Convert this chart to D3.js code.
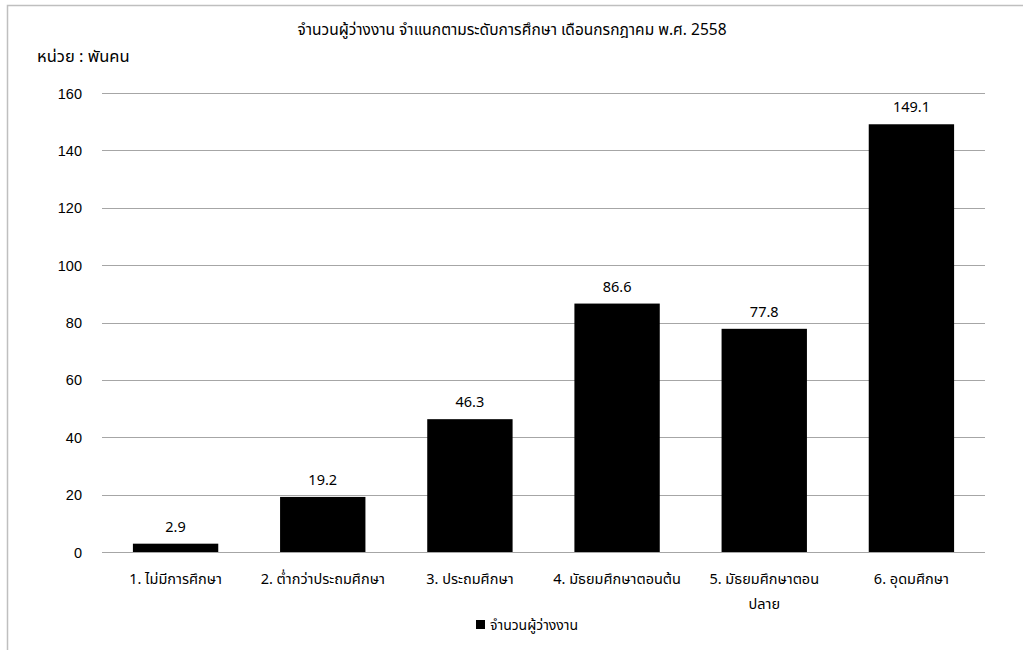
<!DOCTYPE html>
<html>
<head>
<meta charset="utf-8">
<script src="https://cdn.jsdelivr.net/npm/d3@7"></script>
<style>
  html, body { margin: 0; padding: 0; background: #fff; }
  svg { display: block; font-family: Tahoma, "Noto Sans Thai", "Noto Sans", "DejaVu Sans", sans-serif; }
</style>
</head>
<body>
<svg id="chart" width="1023" height="650"></svg>
<script>
// Unemployed persons by education level, July 2015 (B.E. 2558), thousands
const categories = [
  "1. ไม่มีการศึกษา",
  "2. ต่ำกว่าประถมศึกษา",
  "3. ประถมศึกษา",
  "4. มัธยมศึกษาตอนต้น",
  "5. มัธยมศึกษาตอนปลาย",
  "6. อุดมศึกษา"
];
const categoryLines = [
  ["1. ไม่มีการศึกษา"],
  ["2. ต่ำกว่าประถมศึกษา"],
  ["3. ประถมศึกษา"],
  ["4. มัธยมศึกษาตอนต้น"],
  ["5. มัธยมศึกษาตอน", "ปลาย"],
  ["6. อุดมศึกษา"]
];
const unemployed = [2.9, 19.2, 46.3, 86.6, 77.8, 149.1];
const yTicks = [0, 20, 40, 60, 80, 100, 120, 140, 160];
const titleText = "จำนวนผู้ว่างงาน จำแนกตามระดับการศึกษา เดือนกรกฎาคม พ.ศ. 2558";
const unitText = "หน่วย : พันคน";
const seriesName = "จำนวนผู้ว่างงาน";

const svg = d3.select("#chart");
const FS = 14.5;

// outer chart frame
svg.append("path")
  .attr("d", "M7.5,660 V5.5 H1030")
  .attr("fill", "none")
  .attr("stroke", "#bfbfbf")
  .attr("stroke-width", 1.5);

const plot = { left: 102, right: 985, top: 93, bottom: 552 };

const x = d3.scaleBand()
  .domain(categories)
  .range([plot.left, plot.right])
  .paddingInner(0.42)
  .paddingOuter(0.21);

const y = d3.scaleLinear()
  .domain([0, 160])
  .range([plot.bottom, plot.top]);

// horizontal gridlines
svg.append("g")
  .selectAll("line")
  .data(yTicks)
  .join("line")
  .attr("x1", plot.left)
  .attr("x2", plot.right)
  .attr("y1", d => Math.round(y(d)) + 0.5)
  .attr("y2", d => Math.round(y(d)) + 0.5)
  .attr("stroke", "#a6a6a6")
  .attr("stroke-width", 1);

// y axis labels
const yAxis = d3.axisLeft(y).tickValues(yTicks).tickSize(0).tickPadding(0);
const yg = svg.append("g")
  .attr("transform", `translate(${plot.left - 20},0)`)
  .call(yAxis);
yg.select(".domain").remove();
yg.selectAll("text")
  .attr("font-size", FS)
  .attr("font-family", null)
  .attr("fill", "#000")
  .attr("dy", "0.35em");

// bars
svg.append("g")
  .selectAll("rect")
  .data(unemployed)
  .join("rect")
  .attr("x", (d, i) => x(categories[i]))
  .attr("width", x.bandwidth())
  .attr("y", d => y(d))
  .attr("height", d => y(0) - y(d))
  .attr("fill", "#000");

// value labels
svg.append("g")
  .selectAll("text")
  .data(unemployed)
  .join("text")
  .attr("x", (d, i) => x(categories[i]) + x.bandwidth() / 2)
  .attr("y", d => y(d) - 12)
  .attr("text-anchor", "middle")
  .attr("font-size", FS)
  .attr("fill", "#000")
  .text(d => d.toFixed(1));

// category labels
const catG = svg.append("g");
categoryLines.forEach((lines, i) => {
  const cx = x(categories[i]) + x.bandwidth() / 2;
  const t = catG.append("text")
    .attr("x", cx)
    .attr("y", 584)
    .attr("text-anchor", "middle")
    .attr("font-size", FS)
    .attr("fill", "#000");
  lines.forEach((ln, j) => {
    t.append("tspan")
      .attr("x", cx)
      .attr("dy", j === 0 ? 0 : 25)
      .text(ln);
  });
});

// title
svg.append("text")
  .attr("x", 512)
  .attr("y", 35)
  .attr("text-anchor", "middle")
  .attr("font-size", 15.5)
  .attr("fill", "#000")
  .text(titleText);

// unit label
svg.append("text")
  .attr("x", 37)
  .attr("y", 62)
  .attr("font-size", 16.5)
  .attr("fill", "#000")
  .text(unitText);

// legend
const legend = svg.append("g").attr("transform", "translate(476,620)");
legend.append("rect")
  .attr("width", 9).attr("height", 9)
  .attr("fill", "#000");
legend.append("text")
  .attr("x", 14).attr("y", 10)
  .attr("font-size", 14)
  .attr("fill", "#000")
  .text(seriesName);
</script>
</body>
</html>
